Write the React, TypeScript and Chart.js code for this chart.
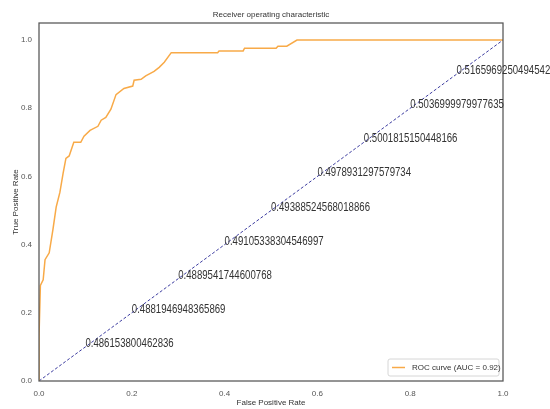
import React, { useEffect, useRef } from "react";
import { Chart, registerables } from "chart.js";

Chart.register(...registerables);

const rocFpr = [0, 0, 0.003, 0.009, 0.013, 0.022, 0.03, 0.037, 0.045, 0.052, 0.058, 0.065, 0.075, 0.09, 0.097, 0.11, 0.127, 0.134, 0.144, 0.155, 0.166, 0.183, 0.202, 0.205, 0.22, 0.23, 0.248, 0.259, 0.27, 0.285, 0.385, 0.388, 0.44, 0.443, 0.511, 0.515, 0.534, 0.556, 1.0];
const rocTpr = [0, 0.13, 0.28, 0.297, 0.356, 0.376, 0.444, 0.51, 0.553, 0.61, 0.653, 0.66, 0.7, 0.7, 0.718, 0.735, 0.747, 0.765, 0.773, 0.797, 0.84, 0.858, 0.865, 0.882, 0.885, 0.895, 0.908, 0.92, 0.935, 0.963, 0.963, 0.968, 0.968, 0.976, 0.976, 0.982, 0.982, 1.0, 1.0];
const chanceX = [0, 1];
const chanceY = [0, 1];
const labelAt = [0.1, 0.2, 0.3, 0.4, 0.5, 0.6, 0.7, 0.8, 0.9];
const thresholdLabels = [
  "0.486153800462836",
  "0.4881946948365869",
  "0.4889541744600768",
  "0.49105338304546997",
  "0.49388524568018866",
  "0.4978931297579734",
  "0.5001815150448166",
  "0.5036999979977635",
  "0.5165969250494542",
];
const xTicks = [0, 0.2, 0.4, 0.6, 0.8, 1.0];
const titleText = "Receiver operating characteristic";
const rocLabel = "ROC curve (AUC = 0.92)";

const FONT = "'Liberation Sans', Arial, sans-serif";

const overlay = {
  id: "overlay",
  afterDraw(chart: any) {
    const { ctx, chartArea, scales } = chart;
    const { left, right, top, bottom } = chartArea;
    ctx.save();
    // frame
    ctx.strokeStyle = "#555555";
    ctx.lineWidth = 1.25;
    ctx.strokeRect(left, top, right - left, bottom - top);
    // title
    ctx.fillStyle = "#333333";
    ctx.font = `8px ${FONT}`;
    ctx.textAlign = "center";
    ctx.textBaseline = "middle";
    ctx.fillText(titleText, (left + right) / 2, 15);
    // threshold labels
    ctx.fillStyle = "#333333";
    ctx.font = `13px ${FONT}`;
    ctx.textAlign = "left";
    ctx.textBaseline = "alphabetic";
    labelAt.forEach((v, i) => {
      const px = scales.x.getPixelForValue(v);
      const py = scales.y.getPixelForValue(v);
      ctx.save();
      ctx.translate(px, py);
      ctx.scale(0.74, 1);
      ctx.fillText(thresholdLabels[i], 0, 0);
      ctx.restore();
    });
    // legend
    const bw = 111, bh = 17;
    const bx = right - 4 - bw, by = bottom - 5 - bh;
    ctx.fillStyle = "rgba(255,255,255,0.85)";
    ctx.strokeStyle = "#d6d6d6";
    ctx.lineWidth = 1;
    ctx.beginPath();
    (ctx as any).roundRect ? (ctx as any).roundRect(bx, by, bw, bh, 2) : ctx.rect(bx, by, bw, bh);
    ctx.fill();
    ctx.stroke();
    ctx.strokeStyle = "#f8aa48";
    ctx.lineWidth = 1.5;
    ctx.beginPath();
    ctx.moveTo(bx + 4, by + bh / 2);
    ctx.lineTo(bx + 17, by + bh / 2);
    ctx.stroke();
    ctx.fillStyle = "#333333";
    ctx.font = `8px ${FONT}`;
    ctx.textBaseline = "middle";
    ctx.fillText(rocLabel, bx + 24, by + bh / 2 + 0.5);
    ctx.restore();
  },
};

export default function App() {
  const ref = useRef<HTMLCanvasElement | null>(null);
  useEffect(() => {
    document.body.style.margin = "0";
    if (!ref.current) return;
    const chart = new Chart(ref.current, {
      type: "scatter",
      data: {
        datasets: [
          {
            label: rocLabel,
            data: rocFpr.map((x, i) => ({ x, y: rocTpr[i] })),
            showLine: true,
            borderColor: "#f8aa48",
            borderWidth: 1.5,
            pointRadius: 0,
            tension: 0,
          },
          {
            label: "chance",
            data: chanceX.map((x, i) => ({ x, y: chanceY[i] })),
            showLine: true,
            borderColor: "rgba(40,40,150,0.9)",
            borderWidth: 1,
            borderDash: [3, 2],
            pointRadius: 0,
          },
        ],
      },
      options: {
        responsive: false,
        animation: false,
        layout: { padding: { top: 23, right: 47, left: 0, bottom: 0 } },
        plugins: {
          legend: { display: false },
          title: { display: false },
          tooltip: { enabled: false },
        },
        scales: {
          x: {
            type: "linear",
            min: 0,
            max: 1,
            grid: { display: false, drawTicks: false },
            border: { display: false },
            afterFit: (s: any) => { s.height = 28; },
            afterBuildTicks: (s: any) => { s.ticks = xTicks.map((v) => ({ value: v })); },
            ticks: {
              padding: 8,
              color: "#555555",
              font: { family: FONT, size: 8 },
              callback: (v: any) => Number(v).toFixed(1),
              maxRotation: 0,
            },
            title: {
              display: true,
              text: "False Positive Rate",
              color: "#333333",
              font: { family: FONT, size: 8 },
              padding: { top: 0, bottom: 1 },
            },
          },
          y: {
            type: "linear",
            min: 0,
            max: 1.05,
            grid: { display: false, drawTicks: false },
            border: { display: false },
            afterFit: (s: any) => { s.width = 39; },
            afterBuildTicks: (s: any) => { s.ticks = xTicks.map((v) => ({ value: v })); },
            ticks: {
              padding: 7,
              color: "#555555",
              font: { family: FONT, size: 8 },
              callback: (v: any) => Number(v).toFixed(1),
            },
            title: {
              display: true,
              text: "True Positive Rate",
              color: "#333333",
              font: { family: FONT, size: 8 },
              padding: { top: 11, bottom: 0 },
            },
          },
        },
      },
      plugins: [overlay],
    });
    return () => chart.destroy();
  }, []);
  return (
    <div style={{ width: 550, height: 409, background: "#ffffff" }}>
      <canvas ref={ref} width={550} height={409} />
    </div>
  );
}
